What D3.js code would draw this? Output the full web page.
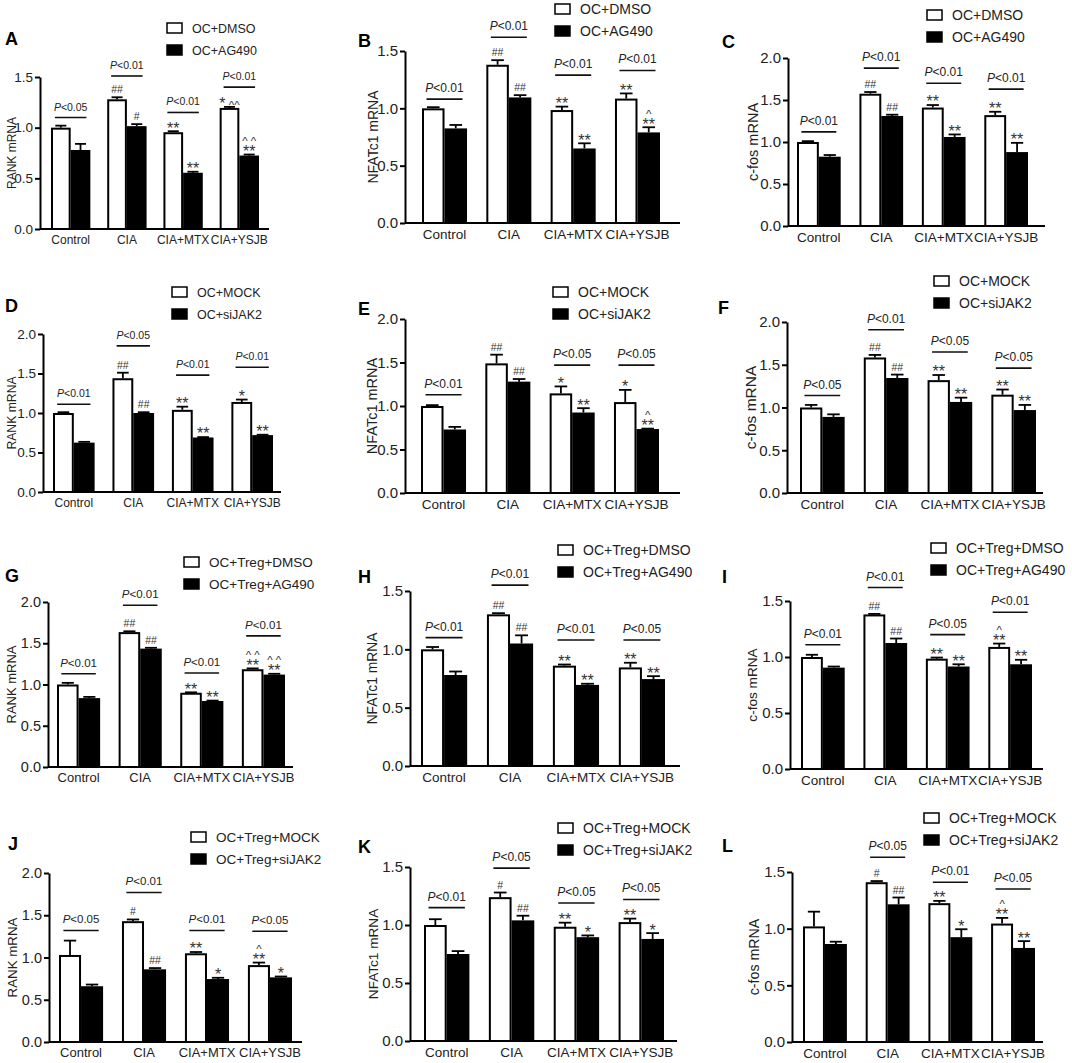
<!DOCTYPE html>
<html>
<head>
<meta charset="utf-8">
<script src="https://cdn.jsdelivr.net/npm/d3@7"></script>
<style>
  body { margin: 0; background: #fff; }
  svg { font-family: "Liberation Sans", Arial, sans-serif; }
</style>
</head>
<body>
<script>
// ---- data ----
const categories = ["Control", "CIA", "CIA+MTX", "CIA+YSJB"];
const panelLetters = ["A", "B", "C", "D", "E", "F", "G", "H", "I", "J", "K", "L"];
const yTitles = ["RANK mRNA", "NFATc1 mRNA", "c-fos mRNA",
                 "RANK mRNA", "NFATc1 mRNA", "c-fos mRNA",
                 "RANK mRNA", "NFATc1 mRNA", "c-fos mRNA",
                 "RANK mRNA", "NFATc1 mRNA", "c-fos mRNA"];
const yMax = [1.5, 1.5, 2.0, 2.0, 2.0, 2.0, 2.0, 1.5, 1.5, 2.0, 1.5, 1.5];
const legendLabels = [
  ["OC+DMSO", "OC+AG490"], ["OC+DMSO", "OC+AG490"], ["OC+DMSO", "OC+AG490"],
  ["OC+MOCK", "OC+siJAK2"], ["OC+MOCK", "OC+siJAK2"], ["OC+MOCK", "OC+siJAK2"],
  ["OC+Treg+DMSO", "OC+Treg+AG490"], ["OC+Treg+DMSO", "OC+Treg+AG490"], ["OC+Treg+DMSO", "OC+Treg+AG490"],
  ["OC+Treg+MOCK", "OC+Treg+siJAK2"], ["OC+Treg+MOCK", "OC+Treg+siJAK2"], ["OC+Treg+MOCK", "OC+Treg+siJAK2"]
];

const whiteMeans = [
  [1.0, 1.28, 0.955, 1.195], [1.0, 1.38, 0.985, 1.085], [1.0, 1.575, 1.41, 1.32],
  [1.0, 1.44, 1.04, 1.14], [1.0, 1.49, 1.145, 1.045], [1.0, 1.585, 1.32, 1.15],
  [1.0, 1.635, 0.9, 1.185], [1.0, 1.3, 0.86, 0.845], [1.0, 1.38, 0.985, 1.09],
  [1.03, 1.43, 1.05, 0.91], [1.0, 1.24, 0.985, 1.025], [1.02, 1.41, 1.225, 1.045]
];
const whiteErr = [
  [0.02, 0.02, 0.01, 0.01], [0.01, 0.04, 0.03, 0.045], [0.01, 0.02, 0.03, 0.04],
  [0.01, 0.07, 0.04, 0.03], [0.01, 0.1, 0.08, 0.14], [0.03, 0.03, 0.06, 0.06],
  [0.02, 0.01, 0.005, 0.01], [0.02, 0.01, 0.01, 0.04], [0.02, 0.005, 0.01, 0.03],
  [0.17, 0.02, 0.015, 0.03], [0.05, 0.04, 0.035, 0.03], [0.13, 0.01, 0.02, 0.05]
];
const blackMeans = [
  [0.78, 1.015, 0.555, 0.725], [0.825, 1.095, 0.65, 0.79], [0.825, 1.31, 1.06, 0.88],
  [0.625, 1.0, 0.69, 0.72], [0.73, 1.28, 0.925, 0.735], [0.89, 1.345, 1.065, 0.97],
  [0.835, 1.435, 0.8, 1.12], [0.78, 1.05, 0.695, 0.745], [0.905, 1.125, 0.915, 0.935],
  [0.66, 0.86, 0.745, 0.765], [0.75, 1.04, 0.895, 0.88], [0.865, 1.215, 0.925, 0.83]
];
const blackErr = [
  [0.06, 0.02, 0.01, 0.01], [0.03, 0.02, 0.045, 0.045], [0.02, 0.015, 0.03, 0.11],
  [0.01, 0.01, 0.005, 0.005], [0.03, 0.03, 0.05, 0.005], [0.03, 0.04, 0.05, 0.06],
  [0.015, 0.01, 0.005, 0.01], [0.03, 0.07, 0.01, 0.025], [0.01, 0.04, 0.02, 0.04],
  [0.02, 0.015, 0.015, 0.01], [0.025, 0.04, 0.015, 0.05], [0.02, 0.06, 0.07, 0.06]
];

// significance marks above bars, lines top-to-bottom separated by "|"
const whiteMarks = [
  ["", "##", "**", "* ^^"], ["", "##", "**", "**"], ["", "##", "**", "**"],
  ["", "##", "**", "*"], ["", "##", "*", "*"], ["", "##", "**", "**"],
  ["", "##", "**", "^ ^|**"], ["", "##", "**", "**"], ["", "##", "**", "^|**"],
  ["", "#", "**", "^|**"], ["", "#", "**", "**"], ["", "#", "**", "^|**"]
];
const blackMarks = [
  ["", "#", "**", "^ ^|**"], ["", "##", "**", "^|**"], ["", "##", "**", "**"],
  ["", "##", "**", "**"], ["", "##", "**", "^|**"], ["", "##", "**", "**"],
  ["", "##", "**", "^ ^|**"], ["", "##", "**", "**"], ["", "##", "**", "**"],
  ["", "##", "*", "*"], ["", "##", "*", "*"], ["", "##", "*", "**"]
];

// P-value brackets (label, level in data units); "" = no bracket
const pLabels = [
  ["<0.05", "<0.01", "<0.01", "<0.01"], ["<0.01", "<0.01", "<0.01", "<0.01"], ["<0.01", "<0.01", "<0.01", "<0.01"],
  ["<0.01", "<0.05", "<0.01", "<0.01"], ["<0.01", "", "<0.05", "<0.05"], ["<0.05", "<0.01", "<0.05", "<0.05"],
  ["<0.01", "<0.01", "<0.01", "<0.01"], ["<0.01", "<0.01", "<0.01", "<0.05"], ["<0.01", "<0.01", "<0.05", "<0.01"],
  ["<0.05", "<0.01", "<0.01", "<0.05"], ["<0.01", "<0.05", "<0.05", "<0.05"], ["", "<0.05", "<0.01", "<0.05"]
];
const pLevels = [
  [1.10, 1.51, 1.15, 1.40], [1.08, 1.62, 1.29, 1.33], [1.12, 1.88, 1.70, 1.63],
  [1.11, 1.85, 1.48, 1.58], [1.13, 0, 1.47, 1.47], [1.14, 1.91, 1.65, 1.46],
  [1.13, 1.96, 1.14, 1.59], [1.10, 1.55, 1.08, 1.08], [1.11, 1.62, 1.20, 1.40],
  [1.32, 1.77, 1.32, 1.31], [1.15, 1.49, 1.19, 1.22], [0, 1.63, 1.41, 1.35]
];

// ---- layout (pixels) ----
const layout = [
  { ax: 40,  axEnd: 269,  barL: 51,  barR: 259,  y0: 229,  yTop: 77,  lx: 166, ly: 28,  tx: 5,   ty: 45,  fs: 12,   tf: 12,   to: 28 },
  { ax: 405, axEnd: 680,  barL: 422, barR: 660,  y0: 223,  yTop: 51,  lx: 554, ly: 9,   tx: 358, ty: 47,  fs: 13.5, tf: 14,   to: 32 },
  { ax: 788, axEnd: 1045, barL: 797, barR: 1028, y0: 226,  yTop: 58,  lx: 926, ly: 15,  tx: 722, ty: 48,  fs: 13.5, tf: 14.5, to: 35 },
  { ax: 43,  axEnd: 281,  barL: 53,  barR: 273,  y0: 492,  yTop: 334, lx: 171, ly: 292, tx: 5,   ty: 312, fs: 12,   tf: 12.2, to: 31 },
  { ax: 405, axEnd: 680,  barL: 421, barR: 659,  y0: 493,  yTop: 319, lx: 552, ly: 292, tx: 358, ty: 315, fs: 13.5, tf: 14.5, to: 33 },
  { ax: 787, axEnd: 1043, barL: 800, barR: 1036, y0: 493,  yTop: 322, lx: 933, ly: 281, tx: 718, ty: 314, fs: 13.5, tf: 15.5, to: 36 },
  { ax: 48,  axEnd: 293,  barL: 57,  barR: 285,  y0: 767,  yTop: 602, lx: 183, ly: 562, tx: 5,   ty: 582, fs: 13,   tf: 13,   to: 37 },
  { ax: 410, axEnd: 680,  barL: 421, barR: 665,  y0: 766,  yTop: 591, lx: 557, ly: 550, tx: 358, ty: 583, fs: 13.5, tf: 13.8, to: 38 },
  { ax: 790, axEnd: 1043, barL: 801, barR: 1032, y0: 769,  yTop: 601, lx: 930, ly: 548, tx: 722, ty: 583, fs: 13.5, tf: 13.6, to: 38 },
  { ax: 49,  axEnd: 302,  barL: 59,  barR: 292,  y0: 1042, yTop: 873, lx: 190, ly: 837, tx: 8,   ty: 850, fs: 13,   tf: 13.3, to: 37 },
  { ax: 410, axEnd: 677,  barL: 424, barR: 664,  y0: 1041, yTop: 867, lx: 557, ly: 828, tx: 358, ty: 853, fs: 13.5, tf: 13.6, to: 37 },
  { ax: 792, axEnd: 1043, barL: 803, barR: 1035, y0: 1042, yTop: 872, lx: 923, ly: 818, tx: 722, ty: 852, fs: 13.5, tf: 14.2, to: 38 }
];

// glyph extents (relative to baseline, as fraction of font size) for the mark rows
const markStyle = {
  star:  { size: 16, bottom: -0.40, top: -0.75 },
  hash:  { size: 10.5, bottom: 0,   top: -0.75 },
  caret: { size: 11.5, bottom: -0.35, top: -0.75 }
};

const svg = d3.select("body").append("svg")
  .attr("width", 1072)
  .attr("height", 1063);

panelLetters.forEach((letter, i) => {
  const L = layout[i];
  const g = svg.append("g");
  const fs = L.fs;

  const y = d3.scaleLinear().domain([0, yMax[i]]).range([L.y0, L.yTop]);
  const x = d3.scaleBand().domain(categories).range([L.barL, L.barR]).paddingInner(0.3);
  const bw = x.bandwidth() / 2;

  // panel letter
  g.append("text")
    .attr("x", L.tx).attr("y", L.ty)
    .attr("font-size", 18).attr("font-weight", "bold")
    .text(letter);

  // y axis
  const yAxis = g.append("g")
    .attr("transform", `translate(${L.ax},0)`)
    .call(d3.axisLeft(y)
      .tickValues(d3.range(0, yMax[i] + 0.001, 0.5))
      .tickFormat(d3.format(".1f"))
      .tickSize(5)
      .tickSizeOuter(0));
  yAxis.select(".domain").attr("stroke-width", 2);
  yAxis.selectAll(".tick line").attr("stroke-width", 2);
  yAxis.selectAll(".tick text")
    .attr("font-size", fs + 1.5)
    .attr("font-family", "Liberation Sans, Arial, sans-serif")
    .attr("fill", "#222")
    .attr("x", -7);

  // y title
  g.append("text")
    .attr("transform", `translate(${L.ax - L.to},${(L.y0 + L.yTop) / 2}) rotate(-90)`)
    .attr("text-anchor", "middle")
    .attr("dy", "0.35em")
    .attr("font-size", L.tf)
    .attr("fill", "#222")
    .text(yTitles[i]);

  // x axis
  g.append("line")
    .attr("x1", L.ax).attr("x2", L.axEnd)
    .attr("y1", L.y0).attr("y2", L.y0)
    .attr("stroke", "#000").attr("stroke-width", 2);
  const xAxis = g.append("g")
    .attr("transform", `translate(0,${L.y0})`)
    .call(d3.axisBottom(x).tickSize(0).tickPadding(6));
  xAxis.select(".domain").remove();
  xAxis.selectAll(".tick text")
    .attr("font-size", fs)
    .attr("font-family", "Liberation Sans, Arial, sans-serif")
    .attr("fill", "#222");

  // bars
  const series = [
    { key: "w", means: whiteMeans[i], errs: whiteErr[i], marks: whiteMarks[i], off: 0 },
    { key: "b", means: blackMeans[i], errs: blackErr[i], marks: blackMarks[i], off: bw }
  ];
  series.forEach(s => {
    const rows = categories.map((c, j) => ({ c, v: s.means[j], e: s.errs[j], m: s.marks[j] }));

    // error bars (upper only)
    const eb = g.append("g");
    eb.selectAll("line.v").data(rows).enter().append("line")
      .attr("x1", d => x(d.c) + s.off + bw / 2).attr("x2", d => x(d.c) + s.off + bw / 2)
      .attr("y1", d => y(d.v)).attr("y2", d => y(d.v + d.e))
      .attr("stroke", "#000").attr("stroke-width", 1.8);
    eb.selectAll("line.c").data(rows).enter().append("line")
      .attr("x1", d => x(d.c) + s.off + bw * 0.22).attr("x2", d => x(d.c) + s.off + bw * 0.78)
      .attr("y1", d => y(d.v + d.e)).attr("y2", d => y(d.v + d.e))
      .attr("stroke", "#000").attr("stroke-width", 1.8);

    g.append("g").selectAll("rect").data(rows).enter().append("rect")
      .attr("x", d => x(d.c) + s.off + (s.key === "w" ? 1 : 0))
      .attr("y", d => y(d.v) + (s.key === "w" ? 1 : 0))
      .attr("width", bw - (s.key === "w" ? 2 : 0))
      .attr("height", d => y(0) - y(d.v) - (s.key === "w" ? 1 : 0))
      .attr("fill", s.key === "w" ? "#fff" : "#000")
      .attr("stroke", "#000")
      .attr("stroke-width", s.key === "w" ? 2 : 0);

    // significance marks, stacked upward from the error bar (one text per bar)
    rows.forEach(d => {
      if (!d.m) return;
      const cx = x(d.c) + s.off + bw / 2;
      const t = g.append("text")
        .attr("text-anchor", "middle")
        .attr("fill", "#333");
      let cursor = y(d.v + d.e) - 4;
      const placed = [];
      d.m.split("|").reverse().forEach(line => {
        const kind = line.includes("*") ? "star" : (line.includes("#") ? "hash" : "caret");
        const st = markStyle[kind];
        const base = cursor - st.bottom * st.size;
        placed.unshift({ line, base });
        cursor = base + st.top * st.size - 4;
      });
      placed.forEach(p => {
        // split into runs so carets stay small next to stars
        p.line.split(/(\*+)/).filter(r => r.length).forEach((r, k) => {
          const sz = r.includes("*") ? markStyle.star.size
                   : r.includes("#") ? markStyle.hash.size : markStyle.caret.size;
          const ts = t.append("tspan").attr("font-size", sz).text(r);
          if (k === 0) ts.attr("x", cx).attr("y", p.base);
        });
      });
    });
  });

  // P brackets
  categories.forEach((c, j) => {
    const lab = pLabels[i][j];
    if (!lab) return;
    const cx = x(c) + x.bandwidth() / 2;
    const half = x.bandwidth() * 0.4;
    const yy = y(pLevels[i][j]);
    g.append("line")
      .attr("x1", cx - half).attr("x2", cx + half)
      .attr("y1", yy).attr("y2", yy)
      .attr("stroke", "#111").attr("stroke-width", 1.6);
    const t = g.append("text")
      .attr("x", cx).attr("y", yy - 7)
      .attr("text-anchor", "middle")
      .attr("font-size", fs - 1.5)
      .attr("fill", "#222");
    t.append("tspan").attr("font-style", "italic").text("P");
    t.append("tspan").text(lab);
  });

  // legend
  const leg = g.append("g");
  legendLabels[i].forEach((lab, k) => {
    const cy = L.ly + k * 22;
    leg.append("rect")
      .attr("x", L.lx + 1).attr("y", cy - 5)
      .attr("width", 15).attr("height", 10)
      .attr("fill", k === 0 ? "#fff" : "#000")
      .attr("stroke", "#000").attr("stroke-width", 1.5);
    leg.append("text")
      .attr("x", L.lx + 26).attr("y", cy)
      .attr("dy", "0.36em")
      .attr("font-size", fs + 0.5)
      .attr("fill", "#222")
      .text(lab);
  });
});
</script>
</body>
</html>
